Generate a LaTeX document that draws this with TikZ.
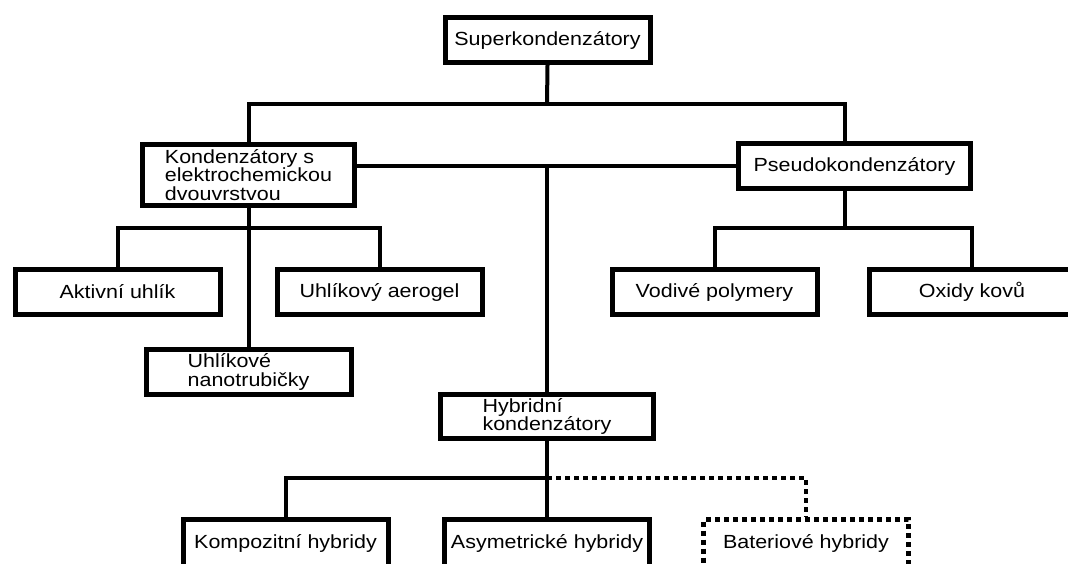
\documentclass[tikz,border=0pt]{standalone}
\usepackage{fontspec}
\setmainfont{Liberation Sans}[FakeStretch=1.13]
\usetikzlibrary{calc}

\begin{document}
\begin{tikzpicture}[x=1pt,y=-1pt,
    box/.style={draw,line width=5pt,inner sep=0pt,minimum width=205pt,
      minimum height=45pt,align=left,font=\fontsize{19}{18.5}\selectfont},
    dotbox/.style={box,dash pattern=on 5pt off 4pt},
    link/.style={line width=4pt},
    dotlink/.style={link,dash pattern=on 5pt off 4pt}]

 % ================================================================
 % frame
 % ================================================================
	\useasboundingbox (0,0) rectangle (1068,563);

        % top
        \node[box] (super) at (547.5,40) {Superkondenzátory};
        % second level
        \node[box,minimum width=212pt,minimum height=61pt] (kond) at (248.5,175)
          {Kondenzátory s\\elektrochemickou\\dvouvrstvou};
        \node[box,minimum width=232pt] (pseudo) at (854.5,166) {Pseudokondenzátory};
        \node[box,minimum width=213pt,minimum height=44pt] (hybrid) at (547,416.5)
          {Hybridní\\kondenzátory};
        % left group
        \node[box] (aktiv) at (117.5,292) {Aktivní uhlík};
        \node[box] (aerogel) at (379.5,292) {Uhlíkový aerogel};
        \node[box] (nano) at (248.5,372) {Uhlíkové\\nanotrubičky};
        % right group
        \node[box] (vodive) at (714.5,292) {Vodivé polymery};
        \node[box] (oxidy) at (972,292) {Oxidy kovů};
        % bottom group
        \node[box,minimum height=47pt] (kompo) at (285.5,543) {Kompozitní hybridy};
        \node[box,minimum height=47pt] (asym) at (547,543) {Asymetrické hybridy};
        \node[dotbox,minimum height=47pt] (bater) at (806,543) {Bateriové hybridy};

        % bars
        \coordinate (topbar) at (547,104);
        \coordinate (pstem) at (845,104);
        \coordinate (kbar) at (248.5,228);
        \coordinate (pbar) at (845,228);
        \coordinate (hbar) at (547,478);

        % links
        \draw[link] (super.south) -- (topbar);
        \draw[link] (kond.north) |- (topbar) -| (pstem |- pseudo.north);
        \draw[link] (pseudo.west) -- (pseudo.west -| kond.east);
        \draw[link] (hybrid.north) -- (hybrid.north |- pseudo.west);
        \draw[link] (kond.south) -- (nano.north);
        \draw[link] (aktiv.north) |- (kbar) -| (aerogel.north);
        \draw[link] (pstem |- pseudo.south) -- (pbar);
        \draw[link] (vodive.north) |- (pbar) -| (oxidy.north);
        \draw[link] (hybrid.south) -- (asym.north);
        \draw[link] (kompo.north) |- (hbar);
        \draw[dotlink] (hbar) -| (bater.north);

\end{tikzpicture}
\end{document}
